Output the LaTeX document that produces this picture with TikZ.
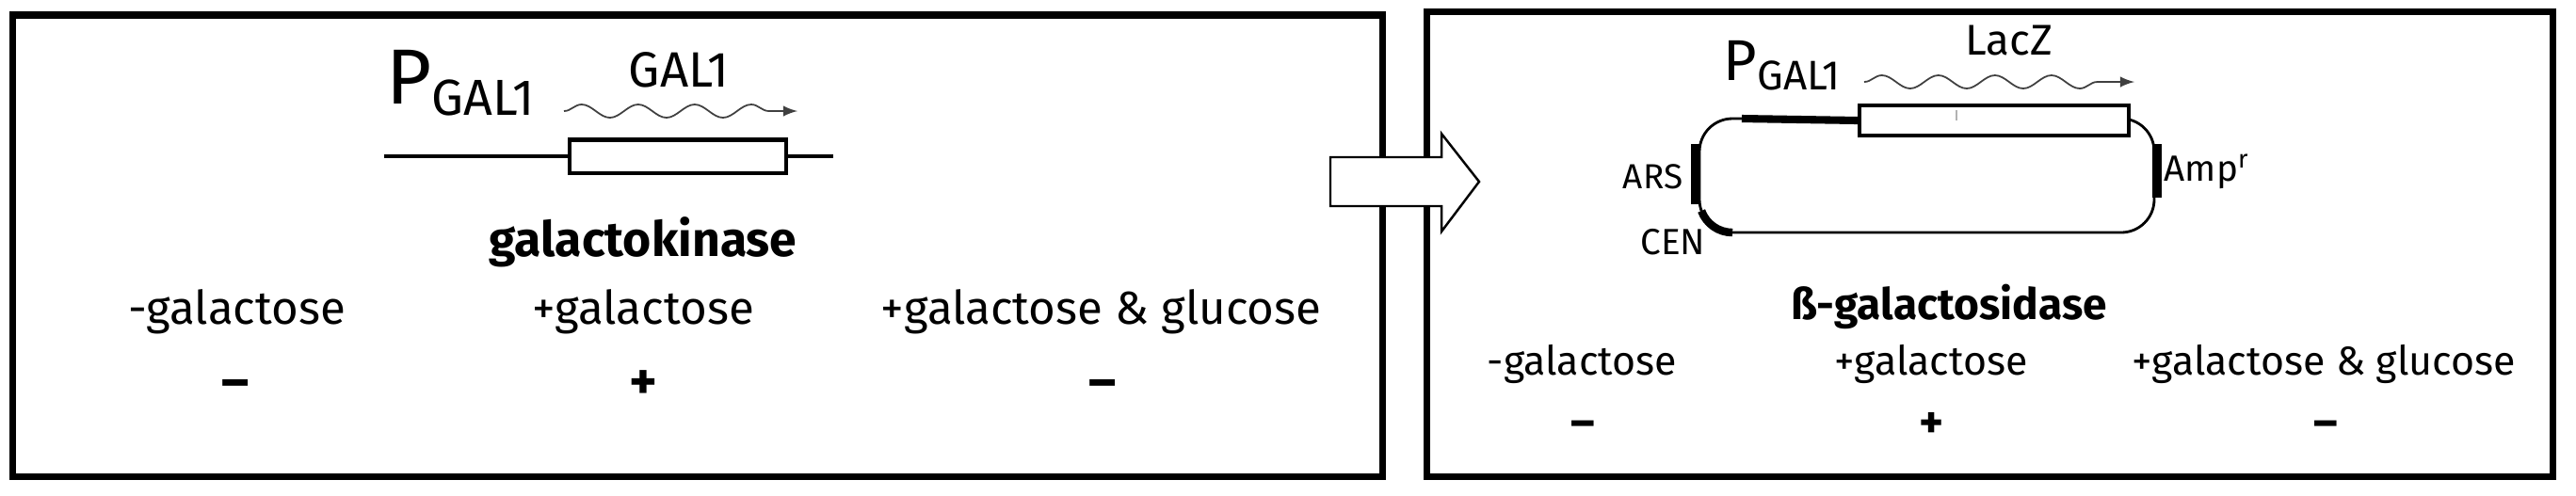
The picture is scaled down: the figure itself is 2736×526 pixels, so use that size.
\documentclass[tikz,border=0pt]{standalone}
\usepackage{fontspec}
\setmainfont{Fira Sans}
\usetikzlibrary{decorations.pathmorphing}

\begin{document}
\begin{tikzpicture}
  [x=0.01cm,y=-0.01cm,
   panel/.style={draw,line width=2pt},
   dna/.style={line width=1.15pt},
   genebox/.style={rectangle,draw,fill=white,line width=1.15pt,inner sep=0pt},
   wave/.style={-latex,draw=black!75,line width=0.5pt,decorate,
                decoration={snake,amplitude=0.7mm,segment length=6mm,post length=2mm}},
   site/.style={line width=2.8pt},
   blockarrow/.style={draw,fill=white,line width=0.7pt,line join=miter},
   cond/.style={anchor=base,font=\fontsize{14}{16}\selectfont},
   condsmall/.style={anchor=base,font=\fontsize{12.2}{14}\selectfont},
   sign/.style={anchor=base,font=\bfseries\fontsize{16}{18}\selectfont},
   signsmall/.style={anchor=base,font=\bfseries\fontsize{14}{16}\selectfont},
   sitelabel/.style={font=\fontsize{10.5}{12}\selectfont,inner sep=0pt}]
  \useasboundingbox (0,0) rectangle (2736,526);

  % left panel: chromosomal GAL1
  \draw[panel] (13.5,16) rectangle (1468,506);
  \node[anchor=base west,inner sep=0pt] (pgal)  at (410,110)
    {\fontsize{23.6}{24}\selectfont P\raisebox{-0.12cm}{\fontsize{15.3}{16}\selectfont GAL1}};
  \node[anchor=base,font=\fontsize{15}{16}\selectfont] (gal1) at (721,92) {GAL1};
  \coordinate (gal1s) at (599,118);
  \coordinate (gal1e) at (847,118);
  \draw[wave] (gal1s) -- (gal1e);
  \coordinate (chrL) at (408,166);
  \coordinate (chrR) at (885,166);
  \node[genebox,minimum width=2.30cm,minimum height=0.35cm] (gal1gene) at (720,166) {};
  \draw[dna] (chrL) -- (gal1gene.west);
  \draw[dna] (gal1gene.east) -- (chrR);
  \node[anchor=base,font=\bfseries\fontsize{14.7}{16}\selectfont] (kinase) at (683,272) {galactokinase};
  \node[cond] (lminus) at (251.5,344) {-galactose};
  \node[cond] (lplus)  at (683,344)   {+galactose};
  \node[cond] (lglu)   at (1169.5,344) {+galactose \& glucose};
  \node[sign] (lminuss) at (250,424)  {–};
  \node[sign] (lpluss)  at (683,424)  {+};
  \node[sign] (lglus)   at (1171,424) {–};

  % right panel: reporter plasmid
  \draw[panel] (1515.5,12.5) rectangle (2711,506.5);
  \node[anchor=base west,inner sep=0pt] (pgalr) at (1830,85)
    {\fontsize{17.4}{18}\selectfont P\raisebox{-0.10cm}{\fontsize{12.5}{14}\selectfont GAL1}};
  \node[anchor=base,font=\fontsize{13}{14}\selectfont] (lacz) at (2134,58) {LacZ};
  \coordinate (laczs) at (1980,87);
  \coordinate (lacze) at (2267,87);
  \draw[wave] (laczs) -- (lacze);
  \draw[line width=0.8pt,rounded corners=0.35cm] (1805,126) rectangle (2288,247);
  \coordinate (promL) at (1850,126);
  \node[genebox,minimum width=2.86cm,minimum height=0.32cm] (laczgene) at (2118,128) {};
  \draw[line width=2.3pt] (promL) -- (laczgene.west);
  \draw[gray!60,dashed,line width=0.4pt] (2078,117) -- (2078,137);
  \draw[site] (1801,153) -- (1801,217);
  \draw[site] (2291,153) -- (2291,210);
  \draw[line width=2.4pt] (1807.1,224) arc[start angle=200,end angle=270,radius=0.35cm];
  \node[sitelabel,anchor=base east] (ars) at (1788,200) {ARS};
  \node[sitelabel,anchor=base east,font=\fontsize{11}{12}\selectfont] (cen) at (1812,270) {CEN};
  \node[sitelabel,anchor=base west,font=\fontsize{11}{12}\selectfont] (amp) at (2298,192) {Amp\textsuperscript{r}};
  \node[anchor=base,font=\bfseries\fontsize{13.1}{14}\selectfont] (betagal) at (2070,339) {ß-galactosidase};
  \node[condsmall] (rminus) at (1680.5,398) {-galactose};
  \node[condsmall] (rplus)  at (2051,398)   {+galactose};
  \node[condsmall] (rglu)   at (2468,398)   {+galactose \& glucose};
  \node[signsmall] (rminuss) at (1681,465)  {–};
  \node[signsmall] (rpluss)  at (2051.5,465) {+};
  \node[signsmall] (rglus)   at (2470.5,465) {–};

  % arrow between the panels
  \draw[blockarrow] (1413,167) -- (1531,167) -- (1531,142) -- (1571,193)
    -- (1531,246) -- (1531,219) -- (1413,219) -- cycle;
\end{tikzpicture}
\end{document}
